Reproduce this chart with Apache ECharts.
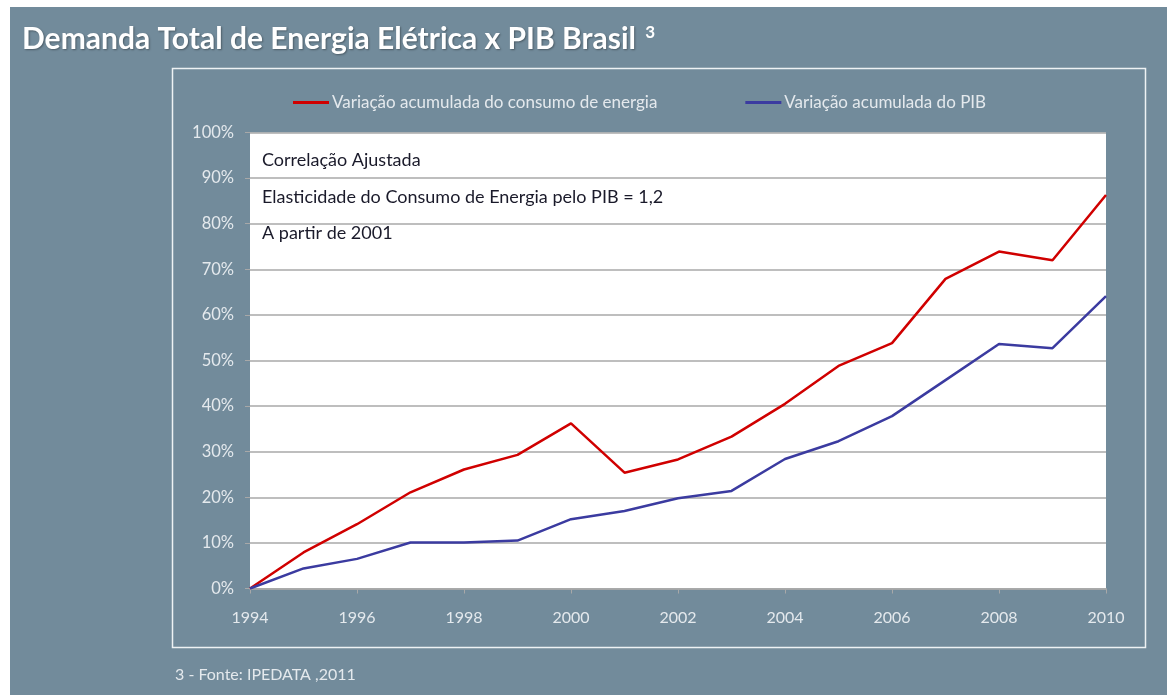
<!DOCTYPE html>
<html>
<head>
<meta charset="utf-8">
<script src="https://cdn.jsdelivr.net/npm/echarts@6/dist/echarts.min.js"></script>
<style>
  html, body { margin: 0; padding: 0; background: #fff; }
  #chart { width: 1167px; height: 695px; }
</style>
</head>
<body>
<div id="chart"></div>
<script>
// anos do eixo x
var anos = ['1994', '1995', '1996', '1997', '1998', '1999', '2000', '2001', '2002',
  '2003', '2004', '2005', '2006', '2007', '2008', '2009', '2010'];
// variação acumulada (%)
var consumoEnergia = [0, 7.9, 14.1, 21.1, 26.1, 29.3, 36.2, 25.4, 28.3, 33.3,
  40.5, 48.8, 53.8, 67.9, 73.9, 72.0, 86.3];
var pib = [0, 4.4, 6.5, 10.1, 10.1, 10.5, 15.2, 17.0, 19.8, 21.4,
  28.4, 32.3, 37.8, 45.7, 53.6, 52.7, 64.1];
var nomesSeries = ['Variação acumulada do consumo de energia', 'Variação acumulada do PIB'];
var notas = ['Correlação Ajustada', 'Elasticidade do Consumo de Energia pelo PIB = 1,2', 'A partir de 2001'];

var fonte = 'Lato, "Open Sans", sans-serif';
var corTexto = '#e4e9ed';

var chart = echarts.init(document.getElementById('chart'));

var graficos = [
  // bordas brancas do slide
  { type: 'rect', shape: { x: 0, y: 0, width: 1167, height: 7 }, style: { fill: '#fff' }, silent: true },
  { type: 'rect', shape: { x: 0, y: 0, width: 10, height: 695 }, style: { fill: '#fff' }, silent: true },
  // moldura do gráfico
  { type: 'rect', shape: { x: 172.5, y: 68.5, width: 973, height: 579 },
    style: { fill: 'none', stroke: '#eef2f4', lineWidth: 1.5 }, silent: true },
  // título
  { type: 'text', left: 22, top: 24, style: {
      text: '{t|Demanda Total de Energia Elétrica x PIB Brasil }{s|3}',
      rich: {
        t: { fontFamily: fonte, fontWeight: 'bold', fontSize: 30, fill: '#fff',
             textShadowColor: 'rgba(0,0,0,0.35)', textShadowBlur: 2, textShadowOffsetX: 1, textShadowOffsetY: 1 },
        s: { fontFamily: fonte, fontWeight: 'bold', fontSize: 17, fill: '#fff', verticalAlign: 'top', padding: [0, 0, 14, 2] }
      }
    }, silent: true },
  // fonte
  { type: 'text', left: 175, top: 667, style: {
      text: '3 - Fonte: IPEDATA ,2011', fontFamily: fonte, fontSize: 16, fill: corTexto
    }, silent: true }
];
var yNotas = [151, 188, 224];
notas.forEach(function (n, i) {
  graficos.push({ type: 'text', left: 262, top: yNotas[i], style: {
    text: n, fontFamily: fonte, fontSize: 18, fill: '#1a1a2a'
  }, z: 100, silent: true });
});

chart.setOption({
  backgroundColor: '#728b9b',
  animation: false,
  textStyle: { fontFamily: fonte },
  graphic: graficos,
  legend: {
    top: 89,
    left: 288,
    itemGap: 88,
    itemWidth: 36,
    itemHeight: 3,
    icon: 'rect',
    textStyle: { color: corTexto, fontSize: 17, padding: [0, 0, 0, -2] },
    data: nomesSeries
  },
  grid: {
    left: 250, right: 61, top: 132.5, bottom: 106.5,
    show: true, backgroundColor: '#fff', borderWidth: 0
  },
  xAxis: {
    type: 'category',
    data: anos,
    boundaryGap: false,
    axisLine: { lineStyle: { color: '#a8a8a8', width: 1.5 } },
    axisTick: { interval: 1, length: 5, lineStyle: { color: '#a8a8a8' } },
    axisLabel: { interval: 1, color: corTexto, fontSize: 16, margin: 21 },
    splitLine: { show: false }
  },
  yAxis: {
    type: 'value',
    min: 0, max: 100, interval: 10,
    axisLine: { show: false },
    axisTick: { show: true, length: 5, lineStyle: { color: '#a8a8a8' } },
    axisLabel: { color: corTexto, fontSize: 16.5, margin: 16, formatter: '{value}%' },
    splitLine: { lineStyle: { color: '#a8a8a8', width: 1.5 } }
  },
  series: [
    {
      name: nomesSeries[0], type: 'line', data: consumoEnergia,
      showSymbol: false, symbol: 'none',
      lineStyle: { color: '#d00000', width: 2.5 }, itemStyle: { color: '#d00000' }
    },
    {
      name: nomesSeries[1], type: 'line', data: pib,
      showSymbol: false, symbol: 'none',
      lineStyle: { color: '#3b3ba0', width: 2.5 }, itemStyle: { color: '#3b3ba0' }
    }
  ]
});
</script>
</body>
</html>
